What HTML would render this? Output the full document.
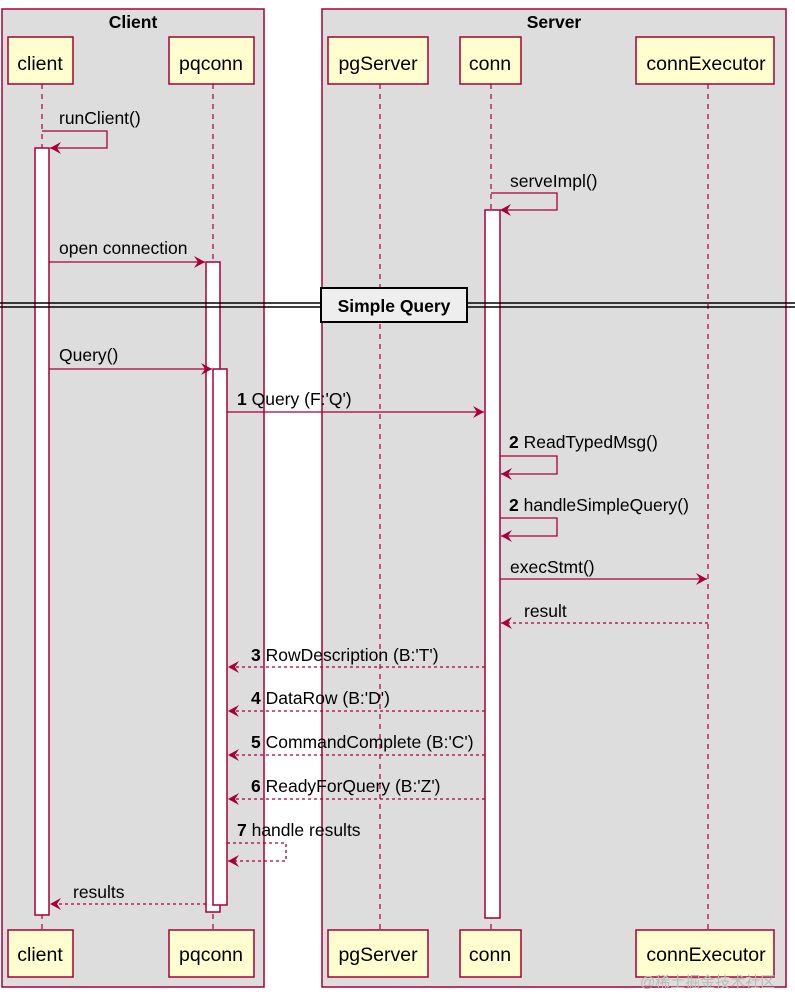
<!DOCTYPE html>
<html><head><meta charset="utf-8"><style>html,body{margin:0;padding:0;background:#fff}svg{display:block}text{font-family:"Liberation Sans",sans-serif;font-size:17.5px;fill:#000}</style></head><body>
<svg width="795" height="994" viewBox="0 0 795 994" xmlns="http://www.w3.org/2000/svg">
<defs>
<marker id="a" markerWidth="12" markerHeight="12" refX="11" refY="6" orient="auto" markerUnits="userSpaceOnUse"><path d="M0,0 L11,6 L0,12 L4,6 Z" fill="#a80036"/></marker>
</defs>
<rect x="2" y="9" width="262" height="978" fill="#dddddd" stroke="#a80036" stroke-width="1.5"/>
<rect x="322" y="9" width="464" height="978" fill="#dddddd" stroke="#a80036" stroke-width="1.5"/>
<text x="133" y="28" text-anchor="middle" font-weight="bold">Client</text>
<text x="554" y="28" text-anchor="middle" font-weight="bold">Server</text>
<g stroke="#a80036" stroke-width="1.2" stroke-dasharray="5,5">
<line x1="42" y1="84" x2="42" y2="930"/><line x1="213" y1="84" x2="213" y2="930"/><line x1="380" y1="84" x2="380" y2="930"/><line x1="491" y1="84" x2="491" y2="930"/><line x1="708" y1="84" x2="708" y2="930"/>
</g>
<g fill="#fefece" stroke="#a80036" stroke-width="1.5">
<rect x="8" y="37" width="65" height="47"/><rect x="169" y="37" width="85" height="47"/><rect x="328" y="37" width="100" height="47"/><rect x="460" y="37" width="61" height="47"/><rect x="636" y="37" width="138" height="47"/>
<rect x="8" y="930" width="65" height="47"/><rect x="169" y="930" width="85" height="47"/><rect x="328" y="930" width="100" height="47"/><rect x="460" y="930" width="61" height="47"/><rect x="636" y="930" width="138" height="47"/>
</g>
<g text-anchor="middle">
<text x="40" y="70" style="font-size:19.5px">client</text><text x="211" y="70" style="font-size:19.5px">pqconn</text><text x="378" y="70" style="font-size:19.5px">pgServer</text><text x="490" y="70" style="font-size:19.5px">conn</text><text x="706" y="70" style="font-size:19.5px">connExecutor</text>
<text x="40" y="961" style="font-size:19.5px">client</text><text x="211" y="961" style="font-size:19.5px">pqconn</text><text x="378" y="961" style="font-size:19.5px">pgServer</text><text x="490" y="961" style="font-size:19.5px">conn</text><text x="706" y="961" style="font-size:19.5px">connExecutor</text>
</g>
<g fill="#fff" stroke="#a80036" stroke-width="1.5">
<rect x="35" y="148" width="14" height="767"/>
<rect x="206" y="262" width="14" height="650"/>
<rect x="213" y="369" width="14" height="536"/>
<rect x="485" y="210" width="15" height="708"/>
</g>
<g stroke="#000" stroke-width="1.5"><line x1="0" y1="303" x2="795" y2="303"/><line x1="0" y1="307" x2="795" y2="307"/></g>
<rect x="321" y="288" width="146" height="34" fill="#eeeeee" stroke="#000" stroke-width="2"/>
<text x="394" y="312" text-anchor="middle" font-weight="bold">Simple Query</text>
<g stroke="#a80036" stroke-width="1.3" fill="none">
<polyline points="42,131 107,131 107,148 50,148" marker-end="url(#a)"/>
<polyline points="491,193 557,193 557,210 500,210" marker-end="url(#a)"/>
<line x1="49" y1="262" x2="205" y2="262" marker-end="url(#a)"/>
<line x1="49" y1="369" x2="212" y2="369" marker-end="url(#a)"/>
<line x1="227" y1="412" x2="484" y2="412" marker-end="url(#a)"/>
<polyline points="500,456 557,456 557,474 501,474" marker-end="url(#a)"/>
<polyline points="500,518 557,518 557,536 501,536" marker-end="url(#a)"/>
<line x1="500" y1="579" x2="707" y2="579" marker-end="url(#a)"/>
<g stroke-dasharray="3,3">
<line x1="708" y1="623" x2="501" y2="623" marker-end="url(#a)"/>
<line x1="485" y1="667" x2="228" y2="667" marker-end="url(#a)"/>
<line x1="485" y1="711" x2="228" y2="711" marker-end="url(#a)"/>
<line x1="485" y1="755" x2="228" y2="755" marker-end="url(#a)"/>
<line x1="485" y1="799" x2="228" y2="799" marker-end="url(#a)"/>
<polyline points="227,843 286,843 286,861 228,861" marker-end="url(#a)"/>
<line x1="206" y1="904" x2="50" y2="904" marker-end="url(#a)"/>
</g>
</g>
<text x="59" y="124">runClient()</text>
<text x="510" y="187">serveImpl()</text>
<text x="59" y="254">open connection</text>
<text x="59" y="361">Query()</text>
<text x="237" y="405"><tspan font-weight="bold">1</tspan> Query (F:'Q')</text>
<text x="509" y="448"><tspan font-weight="bold">2</tspan> ReadTypedMsg()</text>
<text x="509" y="511"><tspan font-weight="bold">2</tspan> handleSimpleQuery()</text>
<text x="510" y="573">execStmt()</text>
<text x="524" y="617">result</text>
<text x="251" y="661"><tspan font-weight="bold">3</tspan> RowDescription (B:'T')</text>
<text x="251" y="704"><tspan font-weight="bold">4</tspan> DataRow (B:'D')</text>
<text x="251" y="748"><tspan font-weight="bold">5</tspan> CommandComplete (B:'C')</text>
<text x="251" y="792"><tspan font-weight="bold">6</tspan> ReadyForQuery (B:'Z')</text>
<text x="237" y="836"><tspan font-weight="bold">7</tspan> handle results</text>
<text x="73" y="898">results</text>
<text x="640" y="987" style="font-size:15px;fill:#bbbbbb;font-family:'Liberation Sans','Noto Sans CJK SC',sans-serif">@稀土掘金技术社区</text>
</svg>
</body></html>
